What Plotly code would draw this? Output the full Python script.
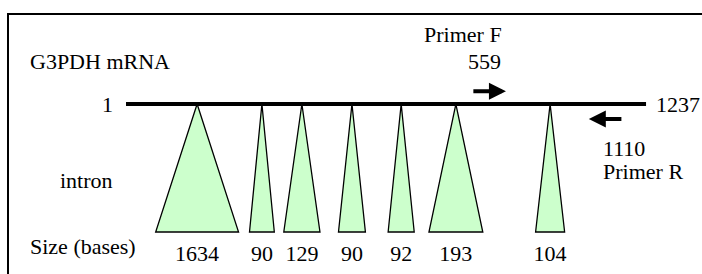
import plotly.graph_objects as go

# ---- data (schematic positions in bases along the mRNA) ----
mrna_start = 1
mrna_end = 1237
intron_sizes = [1634, 90, 129, 90, 92, 193, 104]
intron_pos = [170, 324, 419, 538, 655, 785, 1009]      # schematic insertion points
intron_draw_width = [197, 59, 86, 64, 62, 128, 69]     # drawn base width (schematic)
primer_f_label = 559
primer_r_label = 1110
primer_f_arrow = [823, 904]
primer_r_arrow = [1182, 1101]

FONT = "Liberation Serif"
FS = 22
GREEN = "#ccffcc"

fig = go.Figure()

# mRNA backbone
fig.add_trace(go.Scatter(x=[mrna_start, mrna_end], y=[0, 0], mode="lines",
                         line=dict(color="black", width=4), hoverinfo="skip"))

# intron triangles
xs, ys = [], []
for p, w in zip(intron_pos, intron_draw_width):
    xs += [p, p - w / 2, p + w / 2, p, None]
    ys += [0, -1, -1, 0, None]
fig.add_trace(go.Scatter(x=xs, y=ys, mode="lines", fill="toself",
                         fillcolor=GREEN, line=dict(color="black", width=1.3),
                         hoverinfo="skip"))

# size labels
fig.add_trace(go.Scatter(x=intron_pos, y=[-1.18] * len(intron_pos), mode="text",
                         text=[str(s) for s in intron_sizes],
                         textfont=dict(family=FONT, size=FS, color="black"),
                         textposition="middle center", hoverinfo="skip"))

ann = []
def txt(x, y, t, xanchor="left"):
    ann.append(dict(x=x, y=y, xref="x", yref="y", text=t, showarrow=False,
                    xanchor=xanchor, yanchor="middle",
                    font=dict(family=FONT, size=FS, color="black")))

txt(-232, 0.33, "G3PDH mRNA")
txt(-24, 0.0, str(mrna_start), "right")
txt(1256, 0.0, str(mrna_end))
txt(899, 0.54, "Primer F", "right")
txt(897, 0.33, str(primer_f_label), "right")
txt(1131, -0.35, str(primer_r_label))
txt(1131, -0.53, "Primer R")
txt(-94, -0.60, "intron", "center")
txt(-233, -1.11, "Size (bases)")

# primer arrows
for (a0, a1), yy in [(primer_f_arrow, 0.10), (primer_r_arrow, -0.117)]:
    ann.append(dict(x=a1, y=yy, ax=a0, ay=yy, xref="x", yref="y",
                    axref="x", ayref="y", text="", showarrow=True,
                    arrowhead=2, arrowsize=0.85, arrowwidth=4,
                    arrowcolor="black"))

fig.update_layout(
    width=702, height=274, autosize=False,
    margin=dict(l=0, r=0, t=0, b=0),
    paper_bgcolor="white", plot_bgcolor="white",
    showlegend=False,
    font=dict(family=FONT, size=FS, color="black"),
    xaxis=dict(range=[-298.5, 1370], visible=False, fixedrange=True),
    yaxis=dict(range=[-1.328, 0.8125], visible=False, fixedrange=True),
    annotations=ann,
    shapes=[dict(type="rect", xref="paper", yref="paper",
                 x0=8 / 702, x1=1.05, y0=-0.05, y1=1 - 14 / 274,
                 line=dict(color="black", width=2), fillcolor="rgba(0,0,0,0)")],
)

fig.write_html("out.html", config={"displayModeBar": False},
               post_script="document.body.style.margin='0px';document.body.style.overflow='hidden';")
